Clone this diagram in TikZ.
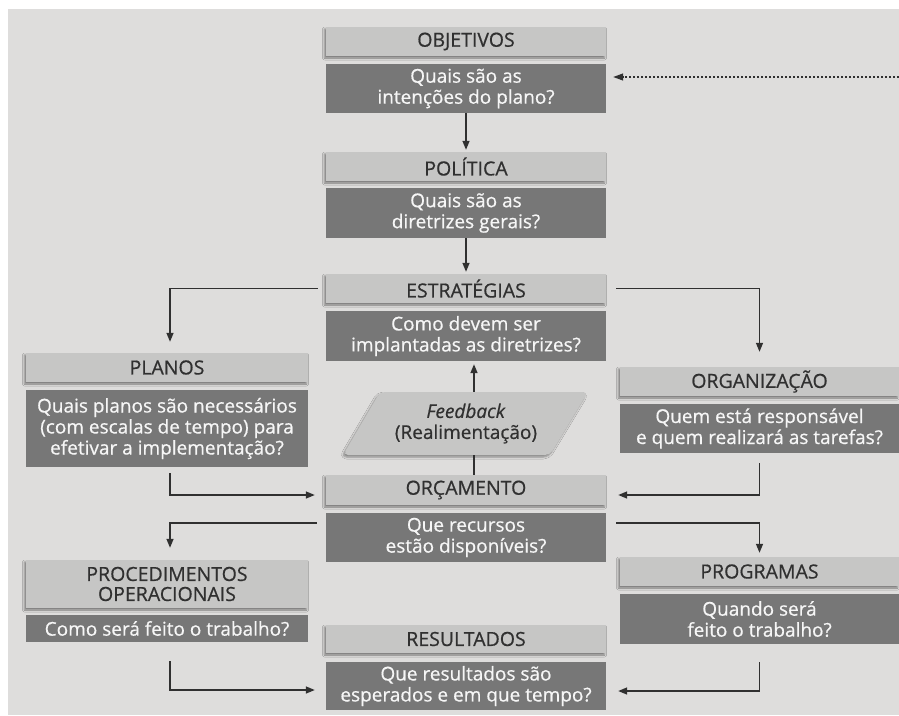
\documentclass[tikz,border=0pt]{standalone}
\usepackage{fontspec}
\setmainfont{Open Sans}[FakeBold=0.6]
\usetikzlibrary{arrows.meta,shadows.blur}
\definecolor{bg}{HTML}{DEDDDC}
\definecolor{headfill}{HTML}{C6C6C5}
\definecolor{bodyfill}{HTML}{777777}
\definecolor{ink}{HTML}{303030}
\definecolor{bodytext}{HTML}{F6F6F6}
\begin{document}
\begin{tikzpicture}[x=1pt,y=-1pt,
  headbox/.style={fill=headfill, text=ink, inner sep=0pt, align=center,
    minimum height=29pt, font=\fontsize{19.5}{20}\selectfont,
    blur shadow={shadow xshift=-1.5pt, shadow yshift=-2pt,
      shadow blur radius=2pt, shadow opacity=45}},
  bodybox/.style={fill=bodyfill, text=bodytext, inner sep=0pt, align=center,
    font=\fontsize{19}{21}\selectfont},
  midcol/.style={minimum width=280pt},
  leftcol/.style={minimum width=282pt},
  rightcol/.style={minimum width=279pt},
  link/.style={draw=ink, line width=1.4pt, -{Triangle[length=9pt,width=7pt]}},
  plainlink/.style={draw=ink, line width=1.4pt},
  backlink/.style={draw=ink, line width=1.3pt, dash pattern=on 2.5pt off 1.5pt,
    -{Triangle[length=10pt,width=7pt]}}
]
% canvas
\useasboundingbox (0,0) rectangle (899,715);
\fill[white] (0,0) rectangle (899,715);
\fill[bg] (8,9) rectangle (899,715);

% centre column
\node[headbox,midcol] (objh) at (466,41.5) {OBJETIVOS};
\node[bodybox,midcol,minimum height=49pt] (objb) at (466,88.5) {Quais são as\\intenções do plano?};
\node[headbox,midcol] (polh) at (466,166.5) {POLÍTICA};
\node[bodybox,midcol,minimum height=50pt] (polb) at (466,213) {Quais são as\\diretrizes gerais?};
\node[headbox,midcol] (esth) at (466,288.5) {ESTRATÉGIAS};
\node[bodybox,midcol,minimum height=50pt] (estb) at (466,336) {Como devem ser\\implantadas as diretrizes?};
\node[headbox,midcol,minimum height=30pt] (orch) at (466,490) {ORÇAMENTO};
\node[bodybox,midcol,minimum height=49pt] (orcb) at (466,537.5) {Que recursos\\estão disponíveis?};
\node[headbox,midcol,minimum height=28pt] (resh) at (466,639) {RESULTADOS};
\node[bodybox,midcol,minimum height=48pt] (resb) at (466,686) {Que resultados são\\esperados e em que tempo?};

% feedback parallelogram
\fill[headfill, rounded corners=5pt,
  blur shadow={shadow xshift=-1.5pt, shadow yshift=-2pt, shadow blur radius=2pt, shadow opacity=40}]
  (380,392) -- (588,392) -- (550,455) -- (343,455) -- cycle;
\node[text=ink, align=center, minimum height=63pt, inner sep=0pt,
  font=\fontsize{19}{21}\selectfont] (fb) at (466,423.5)
  {\textit{Feedback}\\(Realimentação)};

% left column
\node[headbox,leftcol] (planh) at (167,367.5) {PLANOS};
\node[bodybox,leftcol,minimum height=77pt] (planb) at (167,428.5) {Quais planos são necessários\\(com escalas de tempo) para\\efetivar a implementação?};
\node[headbox,leftcol,minimum height=48pt] (proch) at (167,584) {PROCEDIMENTOS\\OPERACIONAIS};
\node[bodybox,leftcol,minimum height=27pt] (procb) at (167,628.5) {Como será feito o trabalho?};

% right column
\node[headbox,rightcol] (orgh) at (759.5,381.5) {ORGANIZAÇÃO};
\node[bodybox,rightcol,minimum height=49pt] (orgb) at (759.5,428.5) {Quem está responsável\\e quem realizará as tarefas?};
\node[headbox,rightcol] (progh) at (759.5,571.5) {PROGRAMAS};
\node[bodybox,rightcol,minimum height=50pt] (progb) at (759.5,619) {Quando será\\feito o trabalho?};

% main chain
\draw[link] (objb.south) -- ([yshift=2pt]polh.north);
\draw[link] (polb.south) -- ([yshift=2pt]esth.north);

% branches from ESTRATÉGIAS
\draw[link] ([xshift=-8pt]esth.west) -| ([xshift=3pt,yshift=11pt]planh.north);
\draw[link] ([xshift=10pt]esth.east) -| ([yshift=15pt]orgh.north);

% into ORÇAMENTO
\draw[link] ([xshift=3pt,yshift=-6pt]planb.south) |- ([xshift=-11pt,yshift=-5pt]orch.west);
\draw[link] ([yshift=-10pt]orgb.south) |- ([xshift=12pt,yshift=-5pt]orch.east);

% feedback loop
\draw[plainlink] ([xshift=8pt]orch.north) -- ([xshift=8pt]fb.south);
\draw[link] ([xshift=8pt]fb.north) -- ([xshift=8pt,yshift=-3pt]estb.south);

% branches from ORÇAMENTO
\draw[link] ([xshift=-9pt,yshift=14.5pt]orcb.west) -| ([xshift=3pt,yshift=12pt]proch.north);
\draw[link] ([xshift=10pt,yshift=14.5pt]orcb.east) -| ([yshift=4pt]progh.north);

% into RESULTADOS
\draw[link] ([xshift=3pt,yshift=-19pt]procb.south) |- ([xshift=-11pt,yshift=-4pt]resb.west);
\draw[link] ([yshift=-18pt]progb.south) |- ([xshift=12pt,yshift=-5pt]resb.east);

% dotted return to OBJETIVOS
\coordinate (ret) at (899,77);
\draw[backlink] (ret) -- ([xshift=7pt,yshift=11.5pt]objb.east);
\end{tikzpicture}
\end{document}
